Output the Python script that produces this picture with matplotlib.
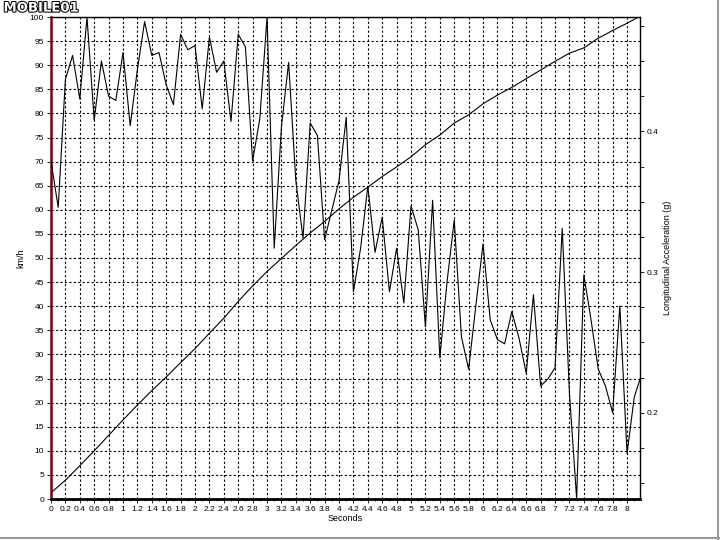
import matplotlib
matplotlib.use('Agg')
import matplotlib.pyplot as plt
import matplotlib.patheffects as pe
from matplotlib.ticker import MultipleLocator, FuncFormatter, NullLocator
from matplotlib.lines import Line2D

# speed trace (km/h), read every 0.2 s
speed_t = [0.0, 0.2, 0.4, 0.6, 0.8, 1.0, 1.2, 1.4, 1.6, 1.8, 2.0, 2.2, 2.4, 2.6,
           2.8, 3.0, 3.2, 3.4, 3.6, 3.8, 4.0, 4.2, 4.4, 4.6, 4.8, 5.0, 5.2, 5.4,
           5.6, 5.8, 6.0, 6.2, 6.4, 6.6, 6.8, 7.0, 7.2, 7.4, 7.6, 7.8, 8.0, 8.2]
speed = [1.3, 3.9, 6.9, 10.0, 13.2, 16.4, 19.5, 22.5, 25.3, 28.3, 31.2, 34.4,
         37.5, 41.0, 44.2, 47.2, 49.9, 52.6, 55.2, 57.6, 60.2, 62.6, 64.7, 66.9,
         68.9, 71.0, 73.5, 75.5, 78.0, 79.7, 82.0, 83.8, 85.4, 87.2, 89.0, 90.8,
         92.5, 93.6, 95.6, 97.2, 98.7, 100.3]

# longitudinal acceleration (g), every 0.1 s
acc_t = [round(i * 0.1, 1) for i in range(83)]
acc_g = [0.379, 0.346, 0.437, 0.454, 0.423, 0.481, 0.408, 0.450, 0.425, 0.422,
         0.456, 0.404, 0.444, 0.478, 0.454, 0.456, 0.433, 0.419, 0.469, 0.458,
         0.461, 0.416, 0.467, 0.442, 0.450, 0.407, 0.469, 0.460, 0.379, 0.409,
         0.481, 0.317, 0.403, 0.449, 0.365, 0.324, 0.406, 0.397, 0.323, 0.344,
         0.365, 0.410, 0.286, 0.317, 0.361, 0.314, 0.339, 0.286, 0.317, 0.278,
         0.347, 0.330, 0.261, 0.351, 0.239, 0.293, 0.337, 0.254, 0.231, 0.276,
         0.320, 0.266, 0.252, 0.249, 0.272, 0.253, 0.228, 0.284, 0.219, 0.224,
         0.232, 0.331, 0.214, 0.139, 0.298, 0.266, 0.231, 0.219, 0.200, 0.276,
         0.171, 0.211, 0.227]

plt.rcParams['font.family'] = ['Liberation Sans', 'DejaVu Sans']
plt.rcParams['font.size'] = 6

fig = plt.figure(figsize=(7.2, 5.4), dpi=100)
ax = fig.add_axes([51 / 720, 41 / 540, 589 / 720, 482 / 540])

ax.plot(speed_t, speed, color='black', lw=0.8)
ax.set_xlim(0, 8.18)
ax.set_ylim(0, 100)
ax.xaxis.set_major_locator(MultipleLocator(0.2))
ax.xaxis.set_minor_locator(MultipleLocator(0.1))
ax.yaxis.set_major_locator(MultipleLocator(5))
ax.yaxis.set_minor_locator(NullLocator())
ax.xaxis.set_major_formatter(FuncFormatter(lambda v, p: f'{round(v, 1):g}'))
ax.grid(True, which='major', color='black', linestyle=(0, (2, 2)), lw=0.8)
ax.tick_params(which='major', length=3, width=0.6, pad=2)
ax.tick_params(which='minor', length=1.5, width=0.5)
ax.set_xlabel('Seconds', labelpad=1, fontsize=6.5)
ax.set_ylabel('km/h', labelpad=3, fontsize=6.5)

ax.spines['left'].set_color('#7a0000')
ax.spines['left'].set_linewidth(1.8)
ax.spines['bottom'].set_linewidth(2)
ax.spines['top'].set_linewidth(1)
ax.spines['right'].set_linewidth(1)

ax2 = ax.twinx()
ax2.plot(acc_t, acc_g, color='black', lw=0.8)
ax2.set_ylim(0.1387, 0.4813)
ax2.set_yticks([0.2, 0.3, 0.4])
ax2.yaxis.set_minor_locator(MultipleLocator(0.025))
ax2.tick_params(which='major', length=3, width=0.6, pad=2)
ax2.tick_params(which='minor', length=3, width=0.6)
ax2.set_ylabel('Longitudinal Acceleration (g)', labelpad=3, fontsize=6.5)
for s in ax2.spines.values():
    s.set_visible(False)

# logo
fig.text(0.005, 0.997, 'MOBILE01', fontsize=9.5, fontweight='bold', color='white',
         va='top', ha='left', family='DejaVu Sans',
         path_effects=[pe.withStroke(linewidth=1.5, foreground='black')])

# window border
fig.add_artist(Line2D([0, 1], [0.004, 0.004], color='#999999', lw=1.5))
fig.add_artist(Line2D([0.997, 0.997], [0, 1], color='#999999', lw=1.5))

fig.savefig('out.png', dpi=100, facecolor='white')
